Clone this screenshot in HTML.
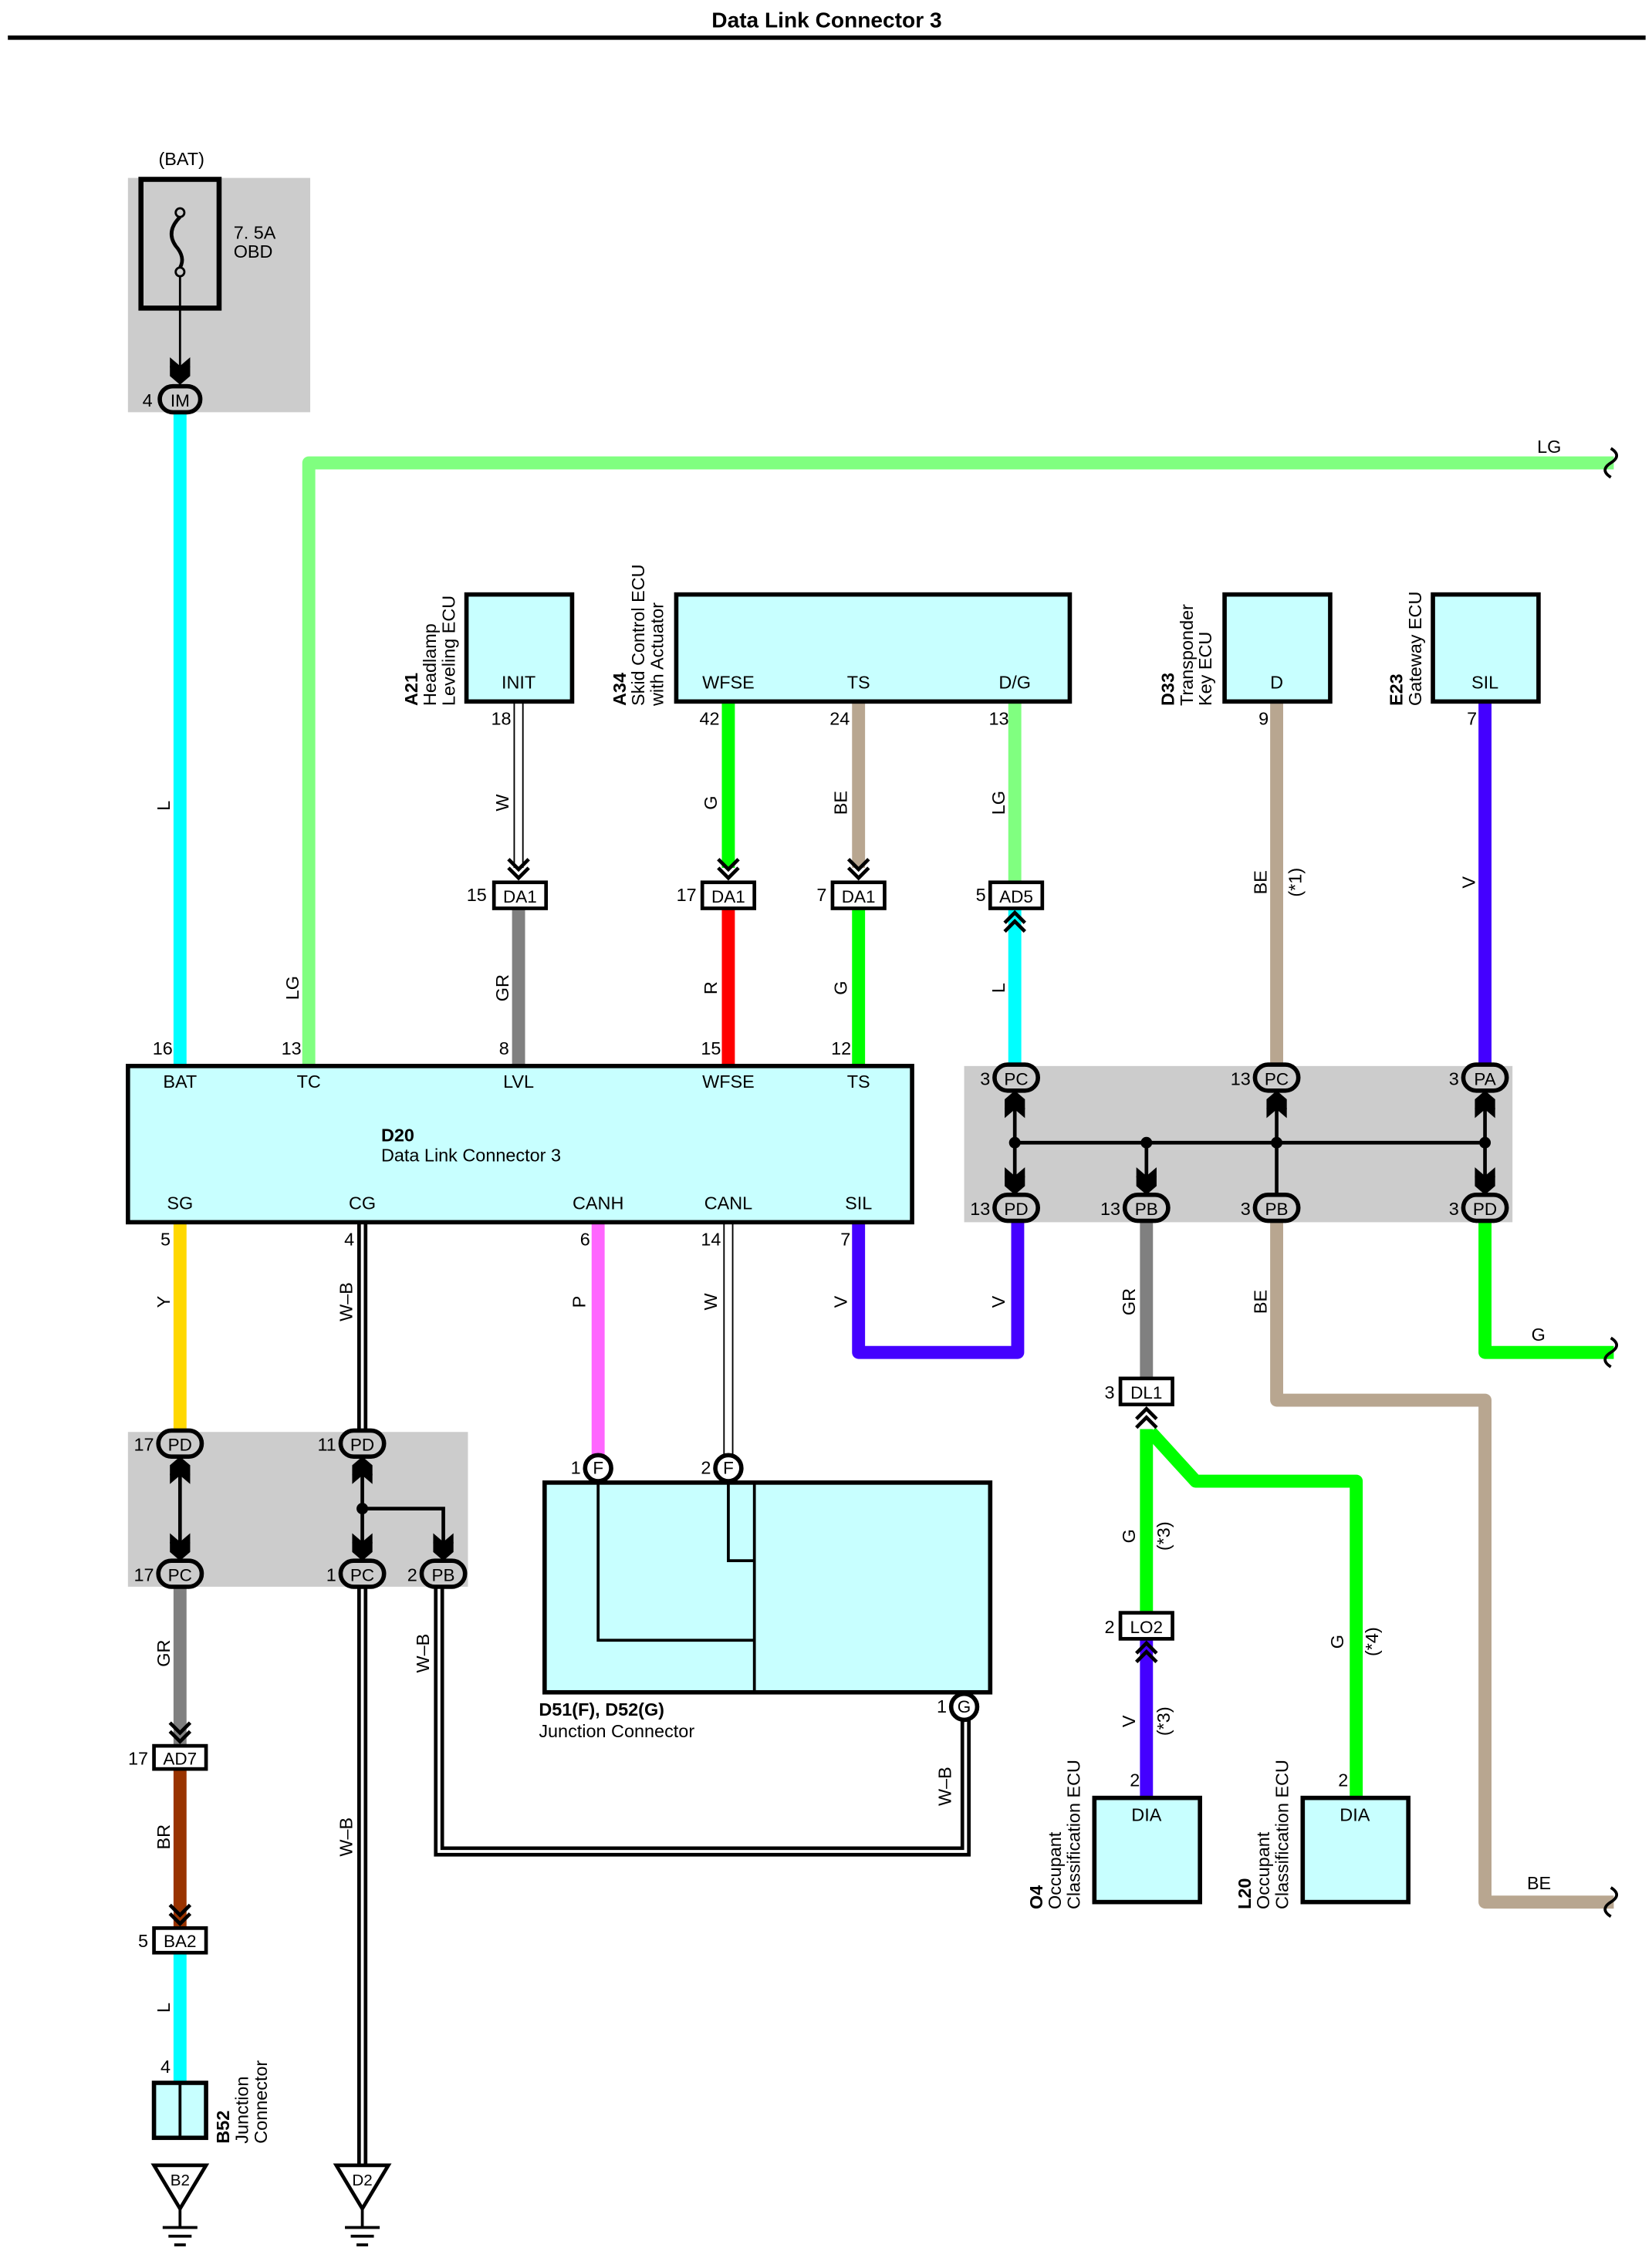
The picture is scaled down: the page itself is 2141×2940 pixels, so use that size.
<!DOCTYPE html>
<html><head><meta charset="utf-8"><style>html,body{margin:0;padding:0;background:#fff}svg{display:block}</style></head>
<body>
<svg width="2141" height="2940" viewBox="0 0 1141 1568" xmlns="http://www.w3.org/2000/svg" font-family="Liberation Sans, sans-serif" font-size="12.5">
<defs>
<path id="ad" d="M-7,-13 L0,-7 L7,-13 L7,-6 L0,0 L-7,-6Z" fill="#000"/>
<path id="oc" d="M-7,-16 L0,-9 L7,-16 M-7,-10 L0,-3 L7,-10" fill="none" stroke="#000" stroke-width="2.5"/>
</defs>
<rect width="1141" height="1568" fill="#fff"/>
<text x="571" y="19" font-weight="bold" font-size="15" text-anchor="middle">Data Link Connector 3</text>
<line x1="5" y1="26" x2="1137" y2="26" stroke="#000" stroke-width="3"/>

<!-- fuse -->
<rect x="88" y="123" width="126" height="162" fill="#ccc"/>
<text x="125" y="114" text-anchor="middle">(BAT)</text>
<rect x="97" y="124" width="54" height="89" fill="none" stroke="#000" stroke-width="3.5"/>
<circle cx="124" cy="147" r="3" fill="none" stroke="#000" stroke-width="1.5"/>
<circle cx="124" cy="188" r="3" fill="none" stroke="#000" stroke-width="1.5"/>
<path d="M124,150 q-10,10 -3,20 q7,8 3,15" fill="none" stroke="#000" stroke-width="2.5"/>
<line x1="124" y1="191" x2="124" y2="265" stroke="#000" stroke-width="1.5"/>
<use href="#ad" x="124" y="266"/><use href="#ad" x="124" y="260"/>
<text x="161" y="165">7. 5A</text><text x="161" y="178">OBD</text>

<!-- wires -->
<g fill="none" stroke-width="9" stroke-linejoin="round">
<line x1="124" y1="285" x2="124" y2="737" stroke="#00ffff"/>
<polyline points="213,737 213,320 1115,320" stroke="#80ff80"/>
<line x1="358" y1="628" x2="358" y2="737" stroke="#808080"/>
<line x1="503" y1="485" x2="503" y2="600" stroke="#00ff00"/>
<line x1="503" y1="628" x2="503" y2="737" stroke="#ff0000"/>
<line x1="593" y1="485" x2="593" y2="600" stroke="#b8a690"/>
<line x1="593" y1="628" x2="593" y2="737" stroke="#00ff00"/>
<line x1="701" y1="485" x2="701" y2="610" stroke="#80ff80"/>
<line x1="701" y1="628" x2="701" y2="737" stroke="#00ffff"/>
<line x1="882" y1="485" x2="882" y2="737" stroke="#b8a690"/>
<line x1="1026" y1="485" x2="1026" y2="737" stroke="#4400ff"/>
<polyline points="593,845 593,935 703,935 703,845" stroke="#4400ff"/>
<line x1="792" y1="845" x2="792" y2="953" stroke="#808080"/>
<polyline points="882,845 882,968 1026,968 1026,1315 1115,1315" stroke="#b8a690"/>
<polyline points="1026,845 1026,935 1115,935" stroke="#00ff00"/>
<line x1="792" y1="988" x2="792" y2="1115" stroke="#00ff00"/>
<polyline points="795,990 826,1024 937,1024 937,1243" stroke="#00ff00"/>
<line x1="792" y1="1133" x2="792" y2="1243" stroke="#4400ff"/>
<line x1="124" y1="845" x2="124" y2="990" stroke="#ffd800"/>
<line x1="124" y1="1097" x2="124" y2="1207" stroke="#808080"/>
<line x1="124" y1="1223" x2="124" y2="1333" stroke="#993300"/>
<line x1="124" y1="1350" x2="124" y2="1440" stroke="#00ffff"/>
<line x1="413" y1="845" x2="413" y2="1007" stroke="#ff66ff"/>
</g>
<!-- white wires -->
<g fill="none">
<line x1="358" y1="485" x2="358" y2="600" stroke="#000" stroke-width="7"/>
<line x1="358" y1="485" x2="358" y2="600" stroke="#fff" stroke-width="5"/>
<line x1="503" y1="845" x2="503" y2="1007" stroke="#000" stroke-width="7"/>
<line x1="503" y1="845" x2="503" y2="1007" stroke="#fff" stroke-width="5"/>
<!-- W-B -->
<line x1="250" y1="845" x2="250" y2="990" stroke="#000" stroke-width="7"/>
<line x1="250" y1="845" x2="250" y2="990" stroke="#fff" stroke-width="2"/>
<line x1="250" y1="1097" x2="250" y2="1497" stroke="#000" stroke-width="7"/>
<line x1="250" y1="1097" x2="250" y2="1497" stroke="#fff" stroke-width="2"/>
<polyline points="303,1097 303,1280 667,1280 667,1188" stroke="#000" stroke-width="7"/>
<polyline points="303,1097 303,1280 667,1280 667,1188" stroke="#fff" stroke-width="2"/>
</g>
<path d="M1113,310 q8,5 0,10 q-8,5 0,10 M1113,925 q8,5 0,10 q-8,5 0,10 M1113,1305 q8,5 0,10 q-8,5 0,10" fill="none" stroke="#000" stroke-width="2"/>

<!-- ECU boxes -->
<g fill="#c8ffff" stroke="#000" stroke-width="3">
<rect x="322" y="411" width="73" height="74"/>
<rect x="467" y="411" width="272" height="74"/>
<rect x="846" y="411" width="73" height="74"/>
<rect x="990" y="411" width="73" height="74"/>
<rect x="88" y="737" width="542" height="108"/>
<rect x="756" y="1243" width="73" height="72"/>
<rect x="900" y="1243" width="73" height="72"/>
<rect x="376" y="1025" width="308" height="145"/>
<rect x="106" y="1440" width="36" height="38"/>
</g>
<g fill="none" stroke="#000" stroke-width="2">
<polyline points="413,1025 413,1134 521,1134"/>
<line x1="521" y1="1025" x2="521" y2="1170"/>
<polyline points="503,1025 503,1079 521,1079"/>
<line x1="124" y1="1440" x2="124" y2="1478"/>
</g>
<text x="358" y="476" text-anchor="middle">INIT</text>
<g text-anchor="middle"><text x="503" y="476">WFSE</text><text x="593" y="476">TS</text><text x="701" y="476">D/G</text>
<text x="882" y="476">D</text><text x="1026" y="476">SIL</text>
<text x="792" y="1259">DIA</text><text x="936" y="1259">DIA</text>
<text x="124" y="752">BAT</text><text x="213" y="752">TC</text><text x="358" y="752">LVL</text><text x="503" y="752">WFSE</text><text x="593" y="752">TS</text>
<text x="124" y="836">SG</text><text x="250" y="836">CG</text><text x="413" y="836">CANH</text><text x="503" y="836">CANL</text><text x="593" y="836">SIL</text>
</g>
<text x="263" y="789" font-weight="bold">D20</text><text x="263" y="803">Data Link Connector 3</text>
<text x="372" y="1186" font-weight="bold">D51(F), D52(G)</text><text x="372" y="1201">Junction Connector</text>

<!-- rotated component labels -->
<g transform="translate(288,488) rotate(-90)"><text font-weight="bold">A21</text></g>
<g transform="translate(301,488) rotate(-90)"><text>Headlamp</text><text y="13">Leveling ECU</text></g>
<g transform="translate(432,488) rotate(-90)"><text font-weight="bold">A34</text></g>
<g transform="translate(445,488) rotate(-90)"><text>Skid Control ECU</text><text y="13">with Actuator</text></g>
<g transform="translate(811,488) rotate(-90)"><text font-weight="bold">D33</text></g>
<g transform="translate(824,488) rotate(-90)"><text>Transponder</text><text y="13">Key ECU</text></g>
<g transform="translate(969,488) rotate(-90)"><text font-weight="bold">E23</text></g>
<g transform="translate(982,488) rotate(-90)"><text>Gateway ECU</text></g>
<g transform="translate(720,1320) rotate(-90)"><text font-weight="bold">O4</text></g>
<g transform="translate(733,1320) rotate(-90)"><text>Occupant</text><text y="13">Classification ECU</text></g>
<g transform="translate(864,1320) rotate(-90)"><text font-weight="bold">L20</text></g>
<g transform="translate(877,1320) rotate(-90)"><text>Occupant</text><text y="13">Classification ECU</text></g>
<g transform="translate(158,1482) rotate(-90)"><text font-weight="bold">B52</text></g>
<g transform="translate(171,1482) rotate(-90)"><text>Junction</text><text y="13">Connector</text></g>

<!-- wire labels rotated -->
<g text-anchor="middle">
<text transform="translate(117,557) rotate(-90)">L</text>
<text transform="translate(206,683) rotate(-90)">LG</text>
<text transform="translate(351,555) rotate(-90)">W</text>
<text transform="translate(351,683) rotate(-90)">GR</text>
<text transform="translate(495,555) rotate(-90)">G</text>
<text transform="translate(495,683) rotate(-90)">R</text>
<text transform="translate(585,555) rotate(-90)">BE</text>
<text transform="translate(585,683) rotate(-90)">G</text>
<text transform="translate(694,555) rotate(-90)">LG</text>
<text transform="translate(694,683) rotate(-90)">L</text>
<text transform="translate(875,610) rotate(-90)">BE</text>
<text transform="translate(899,610) rotate(-90)">(*1)</text>
<text transform="translate(1019,610) rotate(-90)">V</text>
<text transform="translate(585,900) rotate(-90)">V</text>
<text transform="translate(694,900) rotate(-90)">V</text>
<text transform="translate(784,900) rotate(-90)">GR</text>
<text transform="translate(875,900) rotate(-90)">BE</text>
<text transform="translate(784,1062) rotate(-90)">G</text>
<text transform="translate(808,1062) rotate(-90)">(*3)</text>
<text transform="translate(784,1190) rotate(-90)">V</text>
<text transform="translate(808,1190) rotate(-90)">(*3)</text>
<text transform="translate(928,1135) rotate(-90)">G</text>
<text transform="translate(952,1135) rotate(-90)">(*4)</text>
<text transform="translate(117,900) rotate(-90)">Y</text>
<text transform="translate(243,900) rotate(-90)">W–B</text>
<text transform="translate(243,1270) rotate(-90)">W–B</text>
<text transform="translate(296,1143) rotate(-90)">W–B</text>
<text transform="translate(657,1235) rotate(-90)">W–B</text>
<text transform="translate(117,1143) rotate(-90)">GR</text>
<text transform="translate(117,1270) rotate(-90)">BR</text>
<text transform="translate(117,1388) rotate(-90)">L</text>
<text transform="translate(404,900) rotate(-90)">P</text>
<text transform="translate(495,900) rotate(-90)">W</text>
</g>
<text x="1062" y="313">LG</text><text x="1058" y="927">G</text><text x="1055" y="1306">BE</text>

<!-- pin numbers -->
<g text-anchor="middle">
<text x="346" y="501">18</text><text x="490" y="501">42</text><text x="580" y="501">24</text><text x="690" y="501">13</text><text x="873" y="501">9</text><text x="1017" y="501">7</text>
<text x="112" y="729">16</text><text x="201" y="729">13</text><text x="348" y="729">8</text><text x="491" y="729">15</text><text x="581" y="729">12</text>
<text x="114" y="861">5</text><text x="241" y="861">4</text><text x="404" y="861">6</text><text x="491" y="861">14</text><text x="584" y="861">7</text>
<text x="784" y="1235">2</text><text x="928" y="1235">2</text><text x="114" y="1433">4</text>
</g>

<!-- gray connector boxes -->
<rect x="666" y="737" width="379" height="108" fill="#ccc"/>
<rect x="88" y="990" width="235" height="107" fill="#ccc"/>
<g stroke="#000" stroke-width="2.5" fill="none">
<line x1="701" y1="790" x2="1026" y2="790"/>
<line x1="701" y1="752" x2="701" y2="828"/><line x1="792" y1="790" x2="792" y2="828"/>
<line x1="882" y1="752" x2="882" y2="828"/><line x1="1026" y1="752" x2="1026" y2="828"/>
<line x1="124" y1="1005" x2="124" y2="1080"/>
<polyline points="250,1005 250,1080"/><polyline points="250,1043 306,1043 306,1080"/>
</g>
<g fill="#000"><circle cx="701" cy="790" r="4"/><circle cx="792" cy="790" r="4"/><circle cx="882" cy="790" r="4"/><circle cx="1026" cy="790" r="4"/><circle cx="250" cy="1043" r="4"/></g>
<!-- filled arrows -->
<use href="#ad" x="701" y="826"/><use href="#ad" x="701" y="820"/>
<use href="#ad" x="792" y="826"/><use href="#ad" x="792" y="820"/>
<use href="#ad" x="1026" y="826"/><use href="#ad" x="1026" y="820"/>
<use href="#ad" transform="translate(701,754) rotate(180)"/><use href="#ad" transform="translate(701,760) rotate(180)"/>
<use href="#ad" transform="translate(882,754) rotate(180)"/><use href="#ad" transform="translate(882,760) rotate(180)"/>
<use href="#ad" transform="translate(1026,754) rotate(180)"/><use href="#ad" transform="translate(1026,760) rotate(180)"/>
<use href="#ad" transform="translate(124,1007) rotate(180)"/><use href="#ad" transform="translate(124,1013) rotate(180)"/>
<use href="#ad" transform="translate(250,1007) rotate(180)"/><use href="#ad" transform="translate(250,1013) rotate(180)"/>
<use href="#ad" x="124" y="1079"/><use href="#ad" x="124" y="1073"/>
<use href="#ad" x="250" y="1079"/><use href="#ad" x="250" y="1073"/>
<use href="#ad" x="306" y="1079"/><use href="#ad" x="306" y="1073"/>
<!-- open chevrons -->
<use href="#oc" x="358" y="610"/><use href="#oc" x="503" y="610"/><use href="#oc" x="593" y="610"/>
<use href="#oc" x="124" y="1207"/><use href="#oc" x="124" y="1333"/>
<use href="#oc" transform="translate(701,628) rotate(180)"/>
<use href="#oc" transform="translate(792,971) rotate(180)"/>
<use href="#oc" transform="translate(792,1133) rotate(180)"/>

<!-- oval connectors -->
<g stroke="#000" stroke-width="3">
<rect x="110" y="267" width="28" height="18" rx="9" fill="#ccc"/>
<rect x="687" y="736" width="30" height="18" rx="9" fill="#ccc"/>
<rect x="867" y="736" width="30" height="18" rx="9" fill="#ccc"/>
<rect x="1011" y="736" width="30" height="18" rx="9" fill="#ccc"/>
<rect x="687" y="826" width="30" height="18" rx="9" fill="#ccc"/>
<rect x="777" y="826" width="30" height="18" rx="9" fill="#ccc"/>
<rect x="867" y="826" width="30" height="18" rx="9" fill="#ccc"/>
<rect x="1011" y="826" width="30" height="18" rx="9" fill="#ccc"/>
<rect x="109" y="989" width="30" height="18" rx="9" fill="#ccc"/>
<rect x="235" y="989" width="30" height="18" rx="9" fill="#ccc"/>
<rect x="109" y="1079" width="30" height="18" rx="9" fill="#ccc"/>
<rect x="235" y="1079" width="30" height="18" rx="9" fill="#ccc"/>
<rect x="291" y="1079" width="30" height="18" rx="9" fill="#ccc"/>
<circle cx="413" cy="1015" r="9" fill="#fff"/>
<circle cx="503" cy="1015" r="9" fill="#fff"/>
<circle cx="666" cy="1180" r="9" fill="#fff"/>
</g>
<g text-anchor="middle" font-size="12">
<text x="124" y="281">IM</text>
<text x="702" y="750">PC</text><text x="882" y="750">PC</text><text x="1026" y="750">PA</text>
<text x="702" y="840">PD</text><text x="792" y="840">PB</text><text x="882" y="840">PB</text><text x="1026" y="840">PD</text>
<text x="124" y="1003">PD</text><text x="250" y="1003">PD</text>
<text x="124" y="1093">PC</text><text x="250" y="1093">PC</text><text x="306" y="1093">PB</text>
<text x="413" y="1019">F</text><text x="503" y="1019">F</text><text x="666" y="1184">G</text>
</g>
<g text-anchor="end">
<text x="105" y="281">4</text>
<text x="684" y="750">3</text><text x="864" y="750">13</text><text x="1008" y="750">3</text>
<text x="684" y="840">13</text><text x="774" y="840">13</text><text x="864" y="840">3</text><text x="1008" y="840">3</text>
<text x="106" y="1003">17</text><text x="232" y="1003">11</text>
<text x="106" y="1093">17</text><text x="232" y="1093">1</text><text x="288" y="1093">2</text>
<text x="401" y="1019">1</text><text x="491" y="1019">2</text><text x="654" y="1184">1</text>
<text x="336" y="623">15</text><text x="481" y="623">17</text><text x="571" y="623">7</text><text x="681" y="623">5</text>
<text x="770" y="967">3</text><text x="770" y="1129">2</text>
<text x="102" y="1220">17</text><text x="102" y="1346">5</text>
</g>
<!-- rect connectors -->
<g stroke="#000" stroke-width="2.5" fill="#fff">
<rect x="341" y="610" width="36" height="18"/><rect x="485" y="610" width="36" height="18"/>
<rect x="575" y="610" width="36" height="18"/><rect x="684" y="610" width="36" height="18"/>
<rect x="774" y="953" width="36" height="18"/><rect x="774" y="1115" width="36" height="18"/>
<rect x="106" y="1207" width="36" height="16"/><rect x="106" y="1333" width="36" height="17"/>
</g>
<g text-anchor="middle" font-size="12">
<text x="359" y="624">DA1</text><text x="503" y="624">DA1</text><text x="593" y="624">DA1</text><text x="702" y="624">AD5</text>
<text x="792" y="967">DL1</text><text x="792" y="1129">LO2</text><text x="124" y="1220">AD7</text><text x="124" y="1346">BA2</text>
</g>

<!-- grounds -->
<g stroke="#000" stroke-width="2.5" fill="#fff">
<polygon points="106,1497 142,1497 124,1527"/>
<polygon points="232,1497 268,1497 250,1527"/>
</g>
<g stroke="#000" stroke-width="2">
<line x1="124" y1="1527" x2="124" y2="1540"/><line x1="112" y1="1540" x2="136" y2="1540"/><line x1="116" y1="1546" x2="132" y2="1546"/><line x1="120" y1="1552" x2="128" y2="1552"/>
<line x1="250" y1="1527" x2="250" y2="1540"/><line x1="238" y1="1540" x2="262" y2="1540"/><line x1="242" y1="1546" x2="258" y2="1546"/><line x1="246" y1="1552" x2="254" y2="1552"/>
</g>
<text x="124" y="1511" text-anchor="middle" font-size="11">B2</text>
<text x="250" y="1511" text-anchor="middle" font-size="11">D2</text>
</svg>
</body></html>
